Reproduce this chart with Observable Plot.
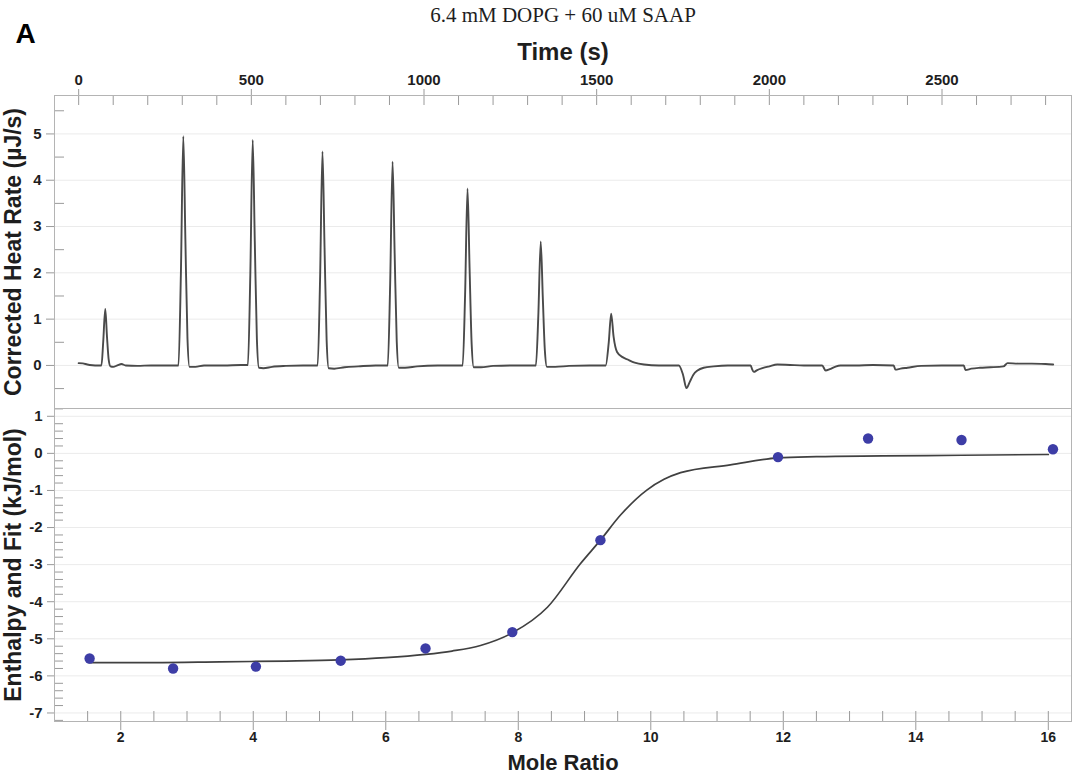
<!DOCTYPE html>
<html><head><meta charset="utf-8">
<script src="https://cdn.jsdelivr.net/npm/d3@7"></script>
<script src="https://cdn.jsdelivr.net/npm/@observablehq/plot@0.6"></script>
<style>
body{margin:0;background:#fff;}
#wrap{position:relative;width:1072px;height:775px;overflow:hidden;}
#wrap svg{position:absolute;left:0;overflow:visible;}
</style></head><body><div id="wrap"></div>
<script>
// ---- data ----
const titleText = "6.4 mM DOPG + 60 uM SAAP";
const timeTicks = [0, 500, 1000, 1500, 2000, 2500];
const rateTicks = [0, 1, 2, 3, 4, 5];
const moleTicks = [2, 4, 6, 8, 10, 12, 14, 16];
const enthalpyTicks = [-7, -6, -5, -4, -3, -2, -1, 0, 1];

// thermogram: [time (s), corrected heat rate (µJ/s)]
const heatTrace = [
 [0,0.05],[12,0.045],[25,0.02],[40,0.005],[55,0],[66,0],[71,0.5],[77,1.22],[82,0.62],[87,0.12],[92,-0.02],[100,-0.03],[112,0.0],[124,0.03],[136,0.0],[170,-0.01],[210,0.0],[250,0.0],[289,0.0],
 [296,1.98],[303,4.95],[309,2.72],[315,0.59],[321,-0.03],[338,-0.03],[363,0.0],[420,0.0],[470,0.01],[490,0.01],
 [497,1.95],[504,4.87],[510,2.68],[516,0.58],[522,-0.05],[535,-0.06],[560,-0.03],[600,-0.01],[650,0.0],[692,0.0],
 [699,1.85],[706,4.62],[712,2.54],[718,0.55],[724,-0.06],[740,-0.07],[770,-0.04],[810,-0.02],[860,0.0],[895,0.0],
 [902,1.76],[909,4.4],[915,2.42],[921,0.53],[927,-0.05],[945,-0.05],[980,-0.02],[1040,0.0],[1080,0.0],[1112,0.0],
 [1119,1.53],[1126,3.82],[1132,2.1],[1138,0.46],[1144,-0.04],[1165,-0.04],[1200,-0.01],[1260,0.0],[1300,0.0],[1324,0.0],
 [1331,1.07],[1338,2.68],[1344,1.47],[1350,0.32],[1356,-0.03],[1380,-0.03],[1420,-0.01],[1480,0.0],[1526,0.0],
 [1535,0.5],[1542,1.12],[1549,0.62],[1559,0.29],[1575,0.18],[1589,0.13],[1610,0.06],[1637,0.02],[1680,0.0],[1738,0.0],
 [1750,-0.2],[1760,-0.49],[1770,-0.35],[1780,-0.2],[1792,-0.11],[1810,-0.05],[1839,-0.02],[1880,0.0],[1946,0.0],
 [1950,-0.08],[1955,-0.14],[1965,-0.1],[1980,-0.06],[2000,-0.02],[2023,0.02],[2060,0.01],[2100,0.0],[2153,0.0],
 [2163,-0.11],[2175,-0.08],[2190,-0.03],[2206,0.0],[2250,0.0],[2300,0.01],[2360,0.0],
 [2365,-0.09],[2380,-0.07],[2400,-0.05],[2440,-0.01],[2500,0.0],[2563,0.0],
 [2568,-0.1],[2585,-0.07],[2610,-0.05],[2640,-0.04],[2678,-0.02],[2690,0.05],[2720,0.04],[2760,0.04],[2800,0.03],[2822,0.02]
];

// integrated heats
const moleRatio = [1.53, 2.79, 4.04, 5.32, 6.6, 7.91, 9.24, 11.92, 13.28, 14.69, 16.07];
const enthalpy  = [-5.53, -5.8, -5.75, -5.59, -5.26, -4.82, -2.34, -0.1, 0.4, 0.36, 0.11];

// fitted curve
const fitMole = [1.52, 2.5, 3.5, 4.5, 5.3, 6.0, 6.6, 7.0, 7.43, 7.91, 8.44, 8.94, 9.24, 9.54, 9.94, 10.2, 10.45, 11.2, 11.92, 12.5, 13.5, 14.7, 16.0];
const fitEnth = [-5.64, -5.64, -5.62, -5.6, -5.57, -5.51, -5.42, -5.33, -5.18, -4.84, -4.15, -2.97, -2.34, -1.67, -0.99, -0.7, -0.52, -0.31, -0.12, -0.09, -0.07, -0.05, -0.03];

// ---- derived tables ----
const points = moleRatio.map((m, i) => ({m, h: enthalpy[i]}));
const fit = fitMole.map((m, i) => ({m, h: fitEnth[i]}));
const trace = heatTrace.map(([t, v]) => ({t, v}));
const timeMinor = d3.range(0, 2900, 100);
const rateMinor = d3.range(-0.5, 5.75, 0.5).filter(v => Math.abs(v % 1) > 0.1);
const moleMinor = d3.range(1.5, 16.3, 0.5);
const enthMinor = d3.range(-7.2, 1.21, 0.2).map(v => +v.toFixed(1)).filter(v => Math.abs(v - Math.round(v)) > 0.05);

const W = 1072, ML = 54, MR = 1;
const frameW = W - ML - MR;
const sans = "Liberation Sans, Arial, Helvetica, sans-serif";
const tickCol = "#9a9a9a", frameCol = "#b4b4b4", gridCol = "#ebebeb", textCol = "#1e1e1e";
const fmt = d => String(d);

const topPlot = Plot.plot({
  width: W, height: 408, marginTop: 95, marginBottom: 0, marginLeft: ML, marginRight: MR,
  x: {domain: [-70, 2875]},
  y: {domain: [-0.93, 5.83]},
  style: {fontFamily: sans, background: "transparent", overflow: "visible"},
  marks: [
    Plot.ruleY(rateTicks, {stroke: gridCol}),
    Plot.ruleX(timeMinor, {stroke: tickCol, insetBottom: 303}),
    Plot.ruleY(rateMinor, {stroke: tickCol, insetRight: frameW - 10}),
    Plot.axisX(timeTicks, {anchor: "top", tickSize: 7, tickPadding: 4, tickFormat: fmt, fontSize: 15, fontWeight: "bold", fill: textCol, stroke: tickCol, label: null}),
    Plot.axisY(rateTicks, {anchor: "left", tickSize: 8, tickPadding: 5, tickFormat: fmt, fontSize: 15, fontWeight: "bold", fill: textCol, stroke: tickCol, label: null}),
    Plot.line(trace, {x: "t", y: "v", stroke: "#4a4a4a", strokeWidth: 1.9, curve: "monotone-x"}),
    Plot.frame({stroke: frameCol}),
    Plot.text([titleText], {text: d => d, frameAnchor: "top", lineAnchor: "middle", dy: -80, fontFamily: "Liberation Serif, Times New Roman, serif", fontSize: 21, fill: textCol}),
    Plot.text(["Time (s)"], {text: d => d, frameAnchor: "top", lineAnchor: "middle", dy: -43, fontSize: 24, fontWeight: "bold", fill: textCol}),
    Plot.text(["A"], {text: d => d, frameAnchor: "top-left", lineAnchor: "middle", dx: -29, dy: -61, textAnchor: "middle", fontSize: 28, fontWeight: "bold", fill: "#000"}),
    Plot.text(["Corrected Heat Rate (µJ/s)"], {text: d => d, frameAnchor: "left", lineAnchor: "middle", dx: -41, rotate: -90, textAnchor: "middle", fontSize: 23, fontWeight: "bold", fill: textCol})
  ]
});

const botPlot = Plot.plot({
  width: W, height: 367, marginTop: 0, marginBottom: 54, marginLeft: ML, marginRight: MR,
  x: {domain: [1.0, 16.35]},
  y: {domain: [-7.23, 1.21]},
  style: {fontFamily: sans, background: "transparent", overflow: "visible"},
  marks: [
    Plot.ruleY(enthalpyTicks, {stroke: gridCol}),
    Plot.ruleX(moleMinor, {stroke: tickCol, insetTop: 303}),
    Plot.ruleY(enthMinor, {stroke: tickCol, insetRight: frameW - 9}),
    Plot.axisX(moleTicks, {anchor: "bottom", tickSize: 9, tickPadding: 2, tickFormat: fmt, fontSize: 14, fontWeight: "bold", fill: textCol, stroke: tickCol, label: null}),
    Plot.axisY(enthalpyTicks, {anchor: "left", tickSize: 7, tickPadding: 5, tickFormat: fmt, fontSize: 15, fontWeight: "bold", fill: textCol, stroke: tickCol, label: null}),
    Plot.line(fit, {x: "m", y: "h", stroke: "#404040", strokeWidth: 1.7, curve: "monotone-x"}),
    Plot.dot(points, {x: "m", y: "h", r: 5.2, fill: "#3d3da6", stroke: "none"}),
    Plot.frame({stroke: frameCol}),
    Plot.text(["Mole Ratio"], {text: d => d, frameAnchor: "bottom", lineAnchor: "middle", dy: 41, fontSize: 22, fontWeight: "bold", fill: textCol}),
    Plot.text(["Enthalpy and Fit (kJ/mol)"], {text: d => d, frameAnchor: "left", lineAnchor: "middle", dx: -41, rotate: -90, textAnchor: "middle", fontSize: 23, fontWeight: "bold", fill: textCol})
  ]
});

const wrap = document.getElementById("wrap");
topPlot.style.top = "0px";
botPlot.style.top = "408px";
wrap.appendChild(topPlot);
wrap.appendChild(botPlot);
</script>
</body></html>
